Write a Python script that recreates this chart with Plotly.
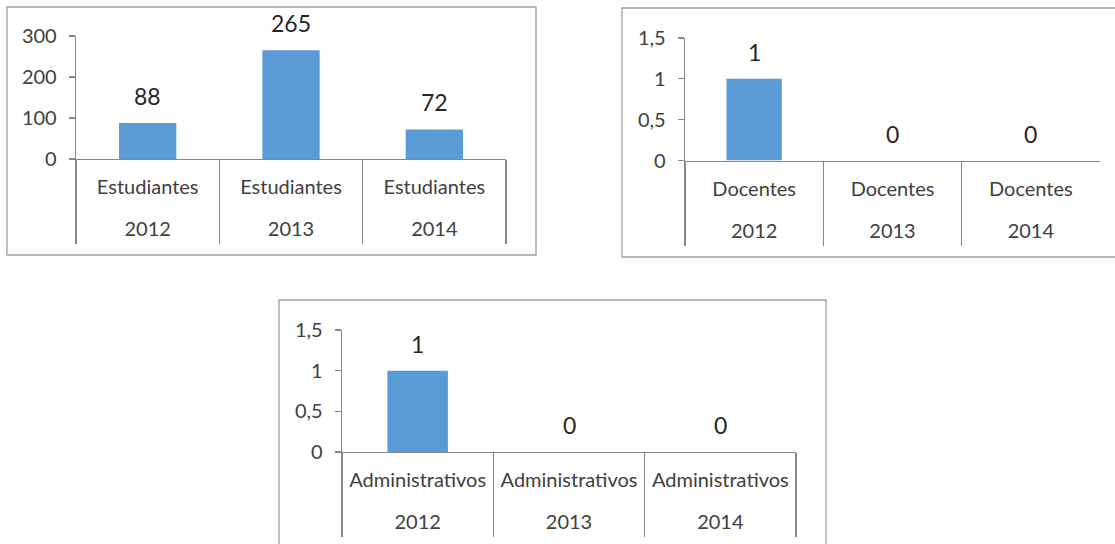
import plotly.graph_objects as go

W, H = 1115, 544

years = ["2012", "2013", "2014"]
estudiantes = [88, 265, 72]
docentes = [1, 0, 0]
administrativos = [1, 0, 0]

group_names = ["Estudiantes", "Docentes", "Administrativos"]
series = [estudiantes, docentes, administrativos]
y_max = [300, 1.5, 1.5]
y_dticks = [100, 0.5, 0.5]

BAR = "#5B9BD5"
AXIS = "#878787"
BORDER = "#a0a0a0"
TXT = "#404040"
FONT = "Lato"

def px(x):
    return x / W

def py(y):
    return 1 - y / H

# plot-area placement in pixels: (x_left, x_right, y_zero, y_top)
panels = [
    (76, 506, 159, 36),
    (685, 1100, 160.5, 38),
    (342, 796, 452, 330),
]
# panel frames in pixels: (x0, x1, y_top, y_bottom)
borders = [
    (7, 536, 7, 255),
    (622, 1125, 8, 257),
    (279, 826, 300, 560),
]
DIV_LEN = 84        # divider (boundary tick) length below the axis
NAME_STANDOFF = 10
YEAR_STANDOFF = 56
YTICK_STANDOFF = 8

fig = go.Figure()
layout = dict(
    width=W, height=H, autosize=False,
    margin=dict(l=0, r=0, t=0, b=0, autoexpand=False),
    paper_bgcolor="white", plot_bgcolor="white",
    showlegend=False, bargap=0.6,
    separators=", ",
    font=dict(family=FONT, color=TXT),
    shapes=[], annotations=[],
)

n = len(group_names)
idx = list(range(len(years)))
for i, (name, vals) in enumerate(zip(group_names, series)):
    sfx = "" if i == 0 else str(i + 1)
    osfx = str(i + 1 + n)
    x0, x1, yz, yt = panels[i]
    fig.add_trace(go.Bar(
        x=years, y=vals,
        marker=dict(color=BAR, line=dict(width=0)),
        xaxis="x" + sfx, yaxis="y" + sfx, hoverinfo="skip",
    ))
    # invisible trace so the overlay (year-row) axis gets drawn
    fig.add_trace(go.Scatter(
        x=idx, y=vals, mode="markers", marker=dict(opacity=0, size=1),
        xaxis="x" + osfx, yaxis="y" + sfx, hoverinfo="skip",
    ))
    # main category axis: boundary ticks act as the dividers, labels = group name
    layout["xaxis" + sfx] = dict(
        domain=[px(x0), px(x1)], anchor="y" + sfx, type="category",
        categoryorder="array", categoryarray=years,
        range=[-0.5, len(years) - 0.5],
        tickvals=years, ticktext=[name] * len(years),
        tickson="boundaries", ticks="outside", ticklen=DIV_LEN,
        tickcolor=AXIS, tickwidth=1.3,
        showline=True, linecolor=AXIS, linewidth=1.3,
        showgrid=False, zeroline=False, automargin=False,
        ticklabelstandoff=NAME_STANDOFF,
        tickfont=dict(family=FONT, size=20, color=TXT),
        fixedrange=True,
    )
    # overlay axis carrying the year row
    layout["xaxis" + osfx] = dict(
        domain=[px(x0), px(x1)], anchor="y" + sfx, overlaying="x" + sfx,
        type="linear", range=[-0.5, len(years) - 0.5],
        tickvals=idx, ticktext=years,
        ticks="", showline=False, showgrid=False, zeroline=False,
        automargin=False, ticklabelstandoff=YEAR_STANDOFF,
        tickfont=dict(family=FONT, size=20, color=TXT),
        fixedrange=True,
    )
    layout["yaxis" + sfx] = dict(
        domain=[py(yz), py(yt)], anchor="x" + sfx,
        range=[0, y_max[i]], dtick=y_dticks[i], tick0=0,
        showline=True, linecolor=AXIS, linewidth=1.3,
        ticks="outside", ticklen=6, tickcolor=AXIS, tickwidth=1.3,
        showgrid=False, zeroline=False, automargin=False,
        ticklabelstandoff=YTICK_STANDOFF,
        tickfont=dict(family=FONT, size=20, color=TXT),
        fixedrange=True,
    )
    for j, v in zip(idx, vals):
        layout["annotations"].append(dict(
            x=j, y=v, xref="x" + sfx, yref="y" + sfx,
            text=str(v), showarrow=False, yanchor="middle", yshift=27,
            font=dict(family=FONT, size=23, color="#262626"),
        ))
    bx0, bx1, by0, by1 = borders[i]
    layout["shapes"].append(dict(
        type="rect", xref="paper", yref="paper",
        x0=px(bx0), x1=px(bx1), y0=py(by1), y1=py(by0),
        line=dict(color=BORDER, width=1.3), fillcolor="rgba(0,0,0,0)",
        layer="below",
    ))

fig.update_layout(**layout)
fig.write_html(
    "out.html",
    config={"displayModeBar": False, "staticPlot": True},
    post_script="document.body.style.margin='0';document.body.style.padding='0';",
)
